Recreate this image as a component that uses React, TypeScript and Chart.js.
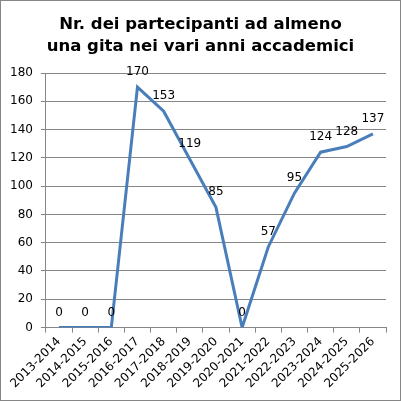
import React, { useEffect, useRef } from "react";
import { Chart, registerables } from "chart.js";

Chart.register(...registerables);

const titleLines = ["Nr. dei partecipanti ad almeno", "una gita nei vari anni accademici"];
const categories = [
  "2013-2014", "2014-2015", "2015-2016", "2016-2017", "2017-2018", "2018-2019", "2019-2020",
  "2020-2021", "2021-2022", "2022-2023", "2023-2024", "2024-2025", "2025-2026",
];
const participants = [0, 0, 0, 170, 153, 119, 85, 0, 57, 95, 124, 128, 137];
const yMin = 0;
const yMax = 180;
const yStep = 20;

const FONT = "'DejaVu Sans', Verdana, sans-serif";

const labelPlugin = {
  id: "pointLabels",
  afterDatasetsDraw(chart: any) {
    const ctx = chart.ctx;
    const meta = chart.getDatasetMeta(0);
    ctx.save();
    ctx.font = `12px ${FONT}`;
    ctx.fillStyle = "#000";
    ctx.textAlign = "center";
    ctx.textBaseline = "bottom";
    meta.data.forEach((pt: any, i: number) => {
      ctx.fillText(String(participants[i]), pt.x, pt.y - 9);
    });
    ctx.restore();
  },
};

const titlePlugin = {
  id: "customTitle",
  afterDraw(chart: any) {
    const ctx = chart.ctx;
    ctx.save();
    ctx.font = `bold 16.5px ${FONT}`;
    ctx.fillStyle = "#000";
    ctx.textAlign = "center";
    ctx.textBaseline = "alphabetic";
    titleLines.forEach((line, i) => {
      ctx.fillText(line, chart.width / 2, 28.5 + i * 22);
    });
    ctx.restore();
  },
};

const borderPlugin = {
  id: "outerBorder",
  afterDraw(chart: any) {
    const ctx = chart.ctx;
    ctx.save();
    ctx.strokeStyle = "#868686";
    ctx.lineWidth = 1;
    ctx.strokeRect(0.5, 0.5, chart.width - 1, chart.height - 1);
    ctx.restore();
  },
  beforeDraw(chart: any) {
    const ctx = chart.ctx;
    ctx.save();
    ctx.fillStyle = "#fff";
    ctx.fillRect(0, 0, chart.width, chart.height);
    ctx.restore();
  },
};

export default function App() {
  const ref = useRef<HTMLCanvasElement | null>(null);
  useEffect(() => {
    if (!ref.current) return;
    const chart = new Chart(ref.current, {
      type: "line",
      data: {
        labels: categories,
        datasets: [
          {
            data: participants,
            borderColor: "#4A7EBB",
            borderWidth: 3,
            pointRadius: 0,
            tension: 0,
            fill: false,
          },
        ],
      },
      options: {
        animation: false,
        responsive: false,
        layout: { padding: { left: 2, right: 15, top: 73, bottom: 8 } },
        plugins: {
          legend: { display: false },
          tooltip: { enabled: false },
          title: { display: false },
        },
        scales: {
          x: {
            offset: true,
            grid: { offset: true, drawOnChartArea: false, drawTicks: true, tickLength: 5, color: "#868686" },
            border: { display: true, color: "#868686" },
            ticks: {
              color: "#000",
              font: { family: FONT, size: 12 },
              maxRotation: 45,
              minRotation: 45,
              autoSkip: false,
              padding: 2,
            },
          },
          y: {
            min: yMin,
            max: yMax,
            grid: { color: "#868686", tickLength: 5 },
            border: { display: true, color: "#868686" },
            ticks: {
              stepSize: yStep,
              color: "#000",
              font: { family: FONT, size: 12 },
              padding: 8,
            },
          },
        },
      },
      plugins: [labelPlugin, titlePlugin, borderPlugin],
    });
    return () => chart.destroy();
  }, []);
  return (
    <div style={{ position: "fixed", left: 0, top: 0, width: 401, height: 401 }}>
      <canvas ref={ref} width={401} height={401} style={{ display: "block" }} />
    </div>
  );
}
